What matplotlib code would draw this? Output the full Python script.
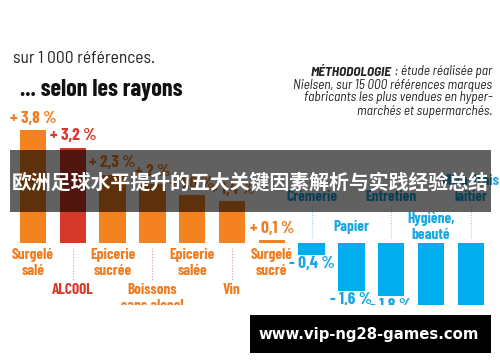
import matplotlib
matplotlib.use("Agg")
import matplotlib.pyplot as plt
from matplotlib.patches import Rectangle

# ---------------- data ----------------
categories = ["Surgelé\nsalé", "ALCOOL", "Epicerie\nsucrée", "Boissons\nsans alcool",
              "Epicerie\nsalée", "Vin", "Surgelé\nsucré",
              "Crèmerie", "Papier", "Entretien", "Hygiène,\nbeauté", "Ultra-frais\nlaitier"]
values = [3.8, 3.2, 2.3, 2.0, 1.6, 1.4, 0.1, -0.4, -1.6, -1.8, -2.2, -2.5]
value_labels = ["+ 3,8 %", "+ 3,2 %", "+ 2,3 %", "+ 2 %", "+ 1,6 %", "+ 1,4 %", "+ 0,1 %",
                "- 0,4 %", "- 1,6 %", "- 1,8 %", "- 2,2 %", "- 2,5 %"]
title = "... selon les rayons"
subtitle = "sur 1 000 références."
method_bold = "MÉTHODOLOGIE"
method_lines = [" : étude réalisée par",
                "Nielsen, sur 15 000 références marques",
                "fabricants les plus vendues en hyper-",
                "marchés et supermarchés."]
banner_text = "欧洲足球水平提升的五大关键因素解析与实践经验总结"
url_text = "www.vip-ng28-games.com"

# ---------------- styles ----------------
W, H = 500, 362
ORANGE = "#F58220"
RED = "#D5392A"
BLUE = "#00AEEF"
ORANGE_TXT = "#F07D22"
BLUE_TXT = "#1AA7E0"
COND = ["Barlow Condensed", "Roboto Condensed", "DejaVu Sans"]
SEMI = ["Barlow Semi Condensed", "Fira Sans Condensed", "Roboto Condensed", "DejaVu Sans"]
LAB_FS = 11

fig = plt.figure(figsize=(W / 100, H / 100), dpi=100)
ax = fig.add_axes([0, 0, 1, 1])
ax.axis("off")
fig.canvas.draw()
R = fig.canvas.get_renderer()

def fit(t, width_px):
    """scale a text's font size so that it spans width_px pixels"""
    w = t.get_window_extent(renderer=R).width
    if w > 0:
        t.set_fontsize(t.get_fontsize() * width_px / w)
    return t

# pixel geometry of the data scale
x0_px, step_px = 33.0, 39.8
base_px, unit_px = 243.0, 29.7
ax.set_xlim(-x0_px / step_px, (W - x0_px) / step_px)
ax.set_ylim(-(H - base_px) / unit_px, base_px / unit_px)

def px_y(py):
    return (base_px - py) / unit_px

def fx(px):
    return px / W

def fy(py):
    return 1 - py / H

colors = []
for i, v in enumerate(values):
    if v < 0:
        colors.append(BLUE)
    elif categories[i] == "ALCOOL":
        colors.append(RED)
    else:
        colors.append(ORANGE)

xs = list(range(len(values)))
ax.bar(xs, values, width=0.66, color=colors, zorder=2)

# value labels
for i, (v, lab) in enumerate(zip(values, value_labels)):
    if v >= 0:
        c = RED if categories[i] == "ALCOOL" else ORANGE_TXT
        ax.text(i, v + 12 / unit_px, lab, ha="center", va="center", color=c,
                fontsize=12.5, fontweight="bold", family=COND, zorder=3)
    else:
        ax.text(i, v - 9 / unit_px, lab, ha="center", va="center", color=BLUE_TXT,
                fontsize=12.5, fontweight="bold", family=COND, zorder=3)

# category labels
for i, (v, cat) in enumerate(zip(values, categories)):
    if v >= 0:
        if i % 2 == 0:
            ax.text(i, px_y(263), cat, ha="center", va="center", color=ORANGE_TXT,
                    fontsize=LAB_FS, fontweight="bold", family=COND, linespacing=1.2, zorder=3)
        else:
            c = RED if cat == "ALCOOL" else ORANGE_TXT
            ax.text(i, px_y(283), cat, ha="center", va="top", color=c, fontsize=LAB_FS,
                    fontweight="bold", family=COND, linespacing=1.2, zorder=3)
            ax.plot([i, i], [px_y(248), px_y(280)], ls=(0, (1, 1.5)), lw=0.8,
                    color="#E59A9A", zorder=1)
    else:
        if i % 2 == 1:
            ax.text(i, px_y(204), cat, ha="center", va="bottom", color=BLUE_TXT,
                    fontsize=LAB_FS, fontweight="bold", family=COND, linespacing=1.2, zorder=3)
            ax.plot([i, i], [px_y(206), px_y(238)], ls=(0, (1, 1.5)), lw=0.8,
                    color="#8FD3EE", zorder=1)
        else:
            ax.text(i, px_y(227), cat, ha="center", va="center", color=BLUE_TXT,
                    fontsize=LAB_FS, fontweight="bold", family=COND, linespacing=1.2, zorder=3)

# titles
t = fig.text(fx(20), fy(90), title, ha="left", va="center", fontsize=17, fontweight="bold",
             family=COND, color="#111111")
fit(t, 163)
t = fig.text(fx(13), fy(58.5), subtitle, ha="left", va="center", fontsize=12,
             family=SEMI, color="#222222")
fit(t, 142)

# methodology block (right aligned)
line_y = [72, 85, 98, 112]
probe = fig.text(0, 0, method_lines[1], fontsize=10, style="italic", family=SEMI)
fit(probe, 199)
mfs = probe.get_fontsize()
probe.remove()
t = fig.text(fx(492), fy(line_y[0]), method_lines[0], ha="right", va="center",
             fontsize=mfs, style="italic", family=SEMI, color="#222222")
bb = t.get_window_extent(renderer=R)
fig.text(bb.x0 / W, fy(line_y[0]), method_bold, ha="right", va="center",
         fontsize=mfs, style="italic", fontweight="bold", family=SEMI, color="#222222")
for ly, line in zip(line_y[1:], method_lines[1:]):
    fig.text(fx(492), fy(ly), line, ha="right", va="center",
             fontsize=mfs, style="italic", family=SEMI, color="#222222")

# crops of the picture (top and bottom white)
ax.add_patch(Rectangle((0, fy(55)), 1, 1 - fy(55), transform=ax.transAxes,
                       facecolor="white", edgecolor="none", zorder=5, clip_on=False))
ax.add_patch(Rectangle((0, 0), 1, fy(305), transform=ax.transAxes,
                       facecolor="white", edgecolor="none", zorder=5, clip_on=False))

# grey translucent banner
ax.add_patch(Rectangle((fx(10), fy(212)), fx(491) - fx(10), fy(150) - fy(212),
                       transform=ax.transAxes, facecolor="black", alpha=0.62,
                       edgecolor="none", zorder=6, clip_on=False))
t = ax.text(fx(250), fy(182), banner_text, transform=ax.transAxes, ha="center", va="center",
            color="white", fontsize=14.4, fontweight="bold",
            family=["Noto Sans CJK SC", "DejaVu Sans"], zorder=7)
fit(t, 478)

# black url banner
ax.add_patch(Rectangle((fx(250), fy(353)), fx(491) - fx(250), fy(315) - fy(353),
                       transform=ax.transAxes, facecolor="black", edgecolor="none",
                       zorder=8, clip_on=False))
t = ax.text(fx(369), fy(334), url_text, transform=ax.transAxes, ha="center", va="center",
            color="white", fontsize=11.2, fontweight="bold", family="DejaVu Sans", zorder=9)
fit(t, 222)

fig.savefig("out.png", dpi=100)
